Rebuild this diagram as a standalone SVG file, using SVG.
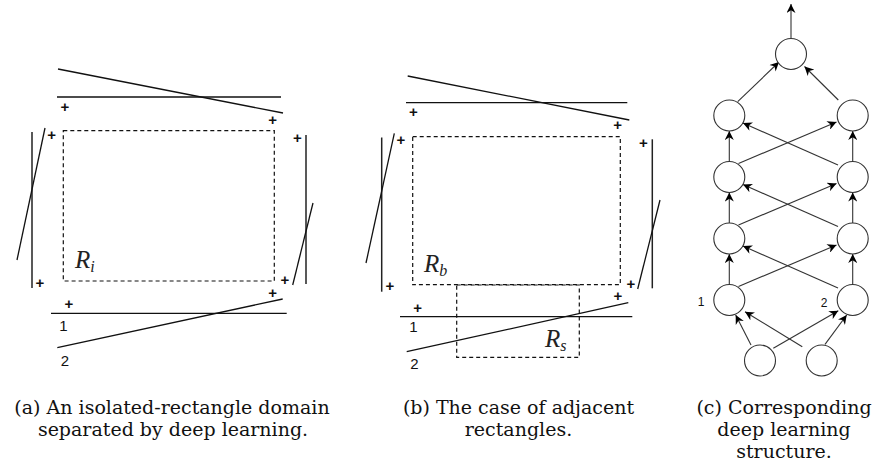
<svg xmlns="http://www.w3.org/2000/svg" width="877" height="468" viewBox="0 0 877 468">
<style>
.ln{stroke:#111;stroke-width:1.3;fill:none}
.vl{stroke:#222;stroke-width:1.5;fill:none}
.dash{stroke:#111;stroke-width:1.2;fill:none;stroke-dasharray:4 3}
.pl{font-family:"Liberation Sans",Arial,sans-serif;font-size:15px;font-weight:bold;text-anchor:middle;fill:#111}
.num{font-family:"Liberation Sans",Arial,sans-serif;font-size:15px;text-anchor:middle;fill:#111}
.numc{font-family:"Liberation Sans",Arial,sans-serif;font-size:12px;text-anchor:middle;fill:#111}
.math{font-family:"Liberation Serif","Times New Roman",serif;font-style:italic;font-size:25px;fill:#222}
.cap{font-family:"DejaVu Serif","Liberation Serif",serif;font-size:19px;text-anchor:middle;fill:#111}
.node{fill:#fff;stroke:#333;stroke-width:1.1}
.edge{stroke:#333;stroke-width:1.1;fill:none;marker-end:url(#ah)}
</style>
<defs>
<marker id="ah" viewBox="0 0 10 10" refX="10" refY="5" markerWidth="10" markerHeight="9" markerUnits="userSpaceOnUse" orient="auto">
<path d="M0,0 L10,5 L0,10 L3,5 Z" fill="#000"/>
</marker>
</defs>

<g id="panel-a">
<line class="ln" x1="58" y1="69" x2="283" y2="113"/>
<line class="ln" x1="57" y1="97" x2="281" y2="97"/>
<line class="vl" x1="32" y1="132" x2="32" y2="288"/>
<line class="ln" x1="45" y1="128" x2="17" y2="260"/>
<line class="vl" x1="306" y1="135" x2="306" y2="284"/>
<line class="ln" x1="292.7" y1="285" x2="313" y2="203"/>
<line class="ln" x1="51" y1="313.3" x2="286.7" y2="313.3"/>
<line class="ln" x1="57.3" y1="347.7" x2="282.7" y2="299"/>
<rect class="dash" x="63.3" y="130.7" width="211" height="150.3"/>
<text class="pl" x="65" y="112">+</text>
<text class="pl" x="272.7" y="124.6">+</text>
<text class="pl" x="51.7" y="140.3">+</text>
<text class="pl" x="297.5" y="143">+</text>
<text class="pl" x="40" y="288">+</text>
<text class="pl" x="285" y="285.3">+</text>
<text class="pl" x="272.7" y="298">+</text>
<text class="pl" x="69" y="308.6">+</text>
<text class="num" x="63.3" y="330.5">1</text>
<text class="num" x="65" y="366">2</text>
<text class="math" x="75" y="268">R<tspan font-size="16" dy="4">i</tspan></text>
</g>

<g id="panel-b">
<line class="ln" x1="407.7" y1="76" x2="629.3" y2="120"/>
<line class="ln" x1="406" y1="102.7" x2="627.3" y2="102.7"/>
<line class="vl" x1="381.7" y1="137.5" x2="381.7" y2="291.7"/>
<line class="ln" x1="394.3" y1="133.3" x2="366" y2="263"/>
<line class="vl" x1="652.3" y1="139.3" x2="652.3" y2="288.3"/>
<line class="ln" x1="637.7" y1="289" x2="660" y2="200"/>
<line class="ln" x1="400" y1="316.7" x2="632.3" y2="316.7"/>
<line class="ln" x1="406.7" y1="351.7" x2="628.3" y2="302.7"/>
<rect class="dash" x="412.7" y="136.7" width="207.6" height="148"/>
<rect class="dash" x="456.7" y="285" width="122.6" height="72.3"/>
<text class="pl" x="413.3" y="117">+</text>
<text class="pl" x="617.7" y="130.3">+</text>
<text class="pl" x="401" y="145.3">+</text>
<text class="pl" x="643.5" y="148">+</text>
<text class="pl" x="390" y="291.3">+</text>
<text class="pl" x="631" y="288.6">+</text>
<text class="pl" x="618" y="301.3">+</text>
<text class="pl" x="417.7" y="312.6">+</text>
<text class="num" x="413.3" y="332.2">1</text>
<text class="num" x="414.3" y="368.8">2</text>
<text class="math" x="424" y="272">R<tspan font-size="16" dy="4">b</tspan></text>
<text class="math" x="545" y="346.5">R<tspan font-size="16" dy="4">s</tspan></text>
</g>

<g id="connectors">
<line class="edge" x1="791" y1="38.5" x2="791" y2="4"/>
<line class="edge" x1="737.7" y1="101.7" x2="779" y2="62"/>
<line class="edge" x1="838.3" y1="100" x2="804.5" y2="66.5"/>
<line class="edge" x1="729.3" y1="161.5" x2="729.3" y2="131"/>
<line class="edge" x1="852.7" y1="161.5" x2="852.7" y2="131"/>
<line class="edge" x1="738.5" y1="163.5" x2="836.5" y2="122"/>
<line class="edge" x1="838" y1="165" x2="743" y2="123"/>
<line class="edge" x1="729.3" y1="223" x2="729.3" y2="192.5"/>
<line class="edge" x1="852.7" y1="223" x2="852.7" y2="192.5"/>
<line class="edge" x1="738.5" y1="225" x2="836.5" y2="183.5"/>
<line class="edge" x1="838" y1="226.5" x2="743" y2="184.5"/>
<line class="edge" x1="729.3" y1="284.5" x2="729.3" y2="254"/>
<line class="edge" x1="852.7" y1="284.5" x2="852.7" y2="254"/>
<line class="edge" x1="738.5" y1="286.5" x2="836.5" y2="245"/>
<line class="edge" x1="838" y1="288" x2="743" y2="246"/>
<line class="edge" x1="751" y1="345" x2="735.7" y2="315"/>
<line class="edge" x1="773.3" y1="348.3" x2="838.3" y2="310.7"/>
<line class="edge" x1="802.3" y1="346.7" x2="745" y2="311.7"/>
<line class="edge" x1="825" y1="344.3" x2="846.7" y2="315"/>
</g>

<g id="node-top"><circle class="node" cx="791" cy="54" r="15.5"/></g>
<g id="node-l4-left"><circle class="node" cx="729.3" cy="115.5" r="15.5"/></g>
<g id="node-l4-right"><circle class="node" cx="852.7" cy="115.5" r="15.5"/></g>
<g id="node-l3-left"><circle class="node" cx="729.3" cy="177" r="15.5"/></g>
<g id="node-l3-right"><circle class="node" cx="852.7" cy="177" r="15.5"/></g>
<g id="node-l2-left"><circle class="node" cx="729.3" cy="238.5" r="15.5"/></g>
<g id="node-l2-right"><circle class="node" cx="852.7" cy="238.5" r="15.5"/></g>
<g id="node-l1-left"><circle class="node" cx="729.3" cy="300" r="15.5"/><text class="numc" x="701" y="306">1</text></g>
<g id="node-l1-right"><circle class="node" cx="852.7" cy="300" r="15.5"/><text class="numc" x="824" y="306.5">2</text></g>
<g id="node-in-left"><circle class="node" cx="760" cy="360.5" r="15.5"/></g>
<g id="node-in-right"><circle class="node" cx="821.7" cy="360.5" r="15.5"/></g>

<g id="captions">
<text class="cap" x="172" y="414">(a) An isolated-rectangle domain</text>
<text class="cap" x="173" y="436">separated by deep learning.</text>
<text class="cap" x="518.5" y="414">(b) The case of adjacent</text>
<text class="cap" x="518.5" y="436">rectangles.</text>
<text class="cap" x="784" y="414">(c) Corresponding</text>
<text class="cap" x="784" y="436">deep learning</text>
<text class="cap" x="784" y="458">structure.</text>
</g>
</svg>
